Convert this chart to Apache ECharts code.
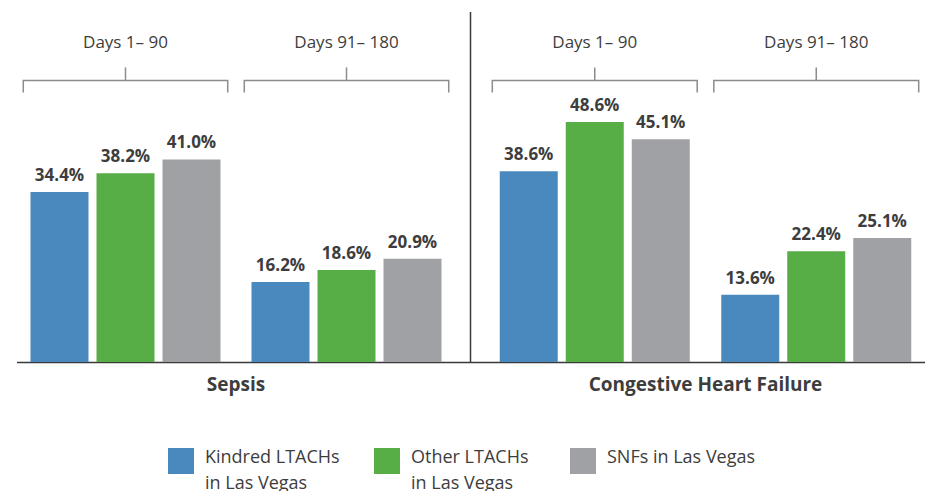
<!DOCTYPE html>
<html>
<head>
<meta charset="utf-8">
<script src="https://cdn.jsdelivr.net/npm/echarts@6/dist/echarts.min.js"></script>
<style>
html,body{margin:0;padding:0;background:#fff;}
#chart{width:927px;height:491px;}
</style>
</head>
<body>
<div id="chart"></div>
<script>
// ---- data ----
const periods = ['Days 1\u2013 90', 'Days 91\u2013 180'];
const panels = ['Sepsis', 'Congestive Heart Failure'];
const seriesNames = ['Kindred LTACHs in Las Vegas', 'Other LTACHs in Las Vegas', 'SNFs in Las Vegas'];
const kindredSepsis = [34.4, 16.2];
const otherSepsis = [38.2, 18.6];
const snfSepsis = [41.0, 20.9];
const kindredCHF = [38.6, 13.6];
const otherCHF = [48.6, 22.4];
const snfCHF = [45.1, 25.1];

// ---- styles ----
const FONT = 'Open Sans';
const colors = ['#4a89be', '#57ad46', '#a0a1a5'];
const TEXT = '#3d3d3d';
const Y_MAX = 60;
const BRACKET_LEVEL = 57;

const panelData = [
  [kindredSepsis, otherSepsis, snfSepsis],
  [kindredCHF, otherCHF, snfCHF]
];

const grids = [
  { left: 15, width: 442, top: 65.6, bottom: 129 },
  { left: 484, width: 443, top: 65.6, bottom: 129 }
];

const xAxes = [];
const yAxes = [];
const series = [];
panels.forEach((p, gi) => {
  xAxes.push({
    type: 'category', gridIndex: gi, data: periods, position: 'bottom',
    axisLine: { show: false }, axisTick: { show: false }, axisLabel: { show: false },
    name: p, nameLocation: 'middle', nameGap: 12,
    nameTextStyle: { fontFamily: FONT, fontWeight: 'bold', fontSize: 19, color: TEXT }
  });
  xAxes.push({
    type: 'category', gridIndex: gi, data: periods, position: 'top',
    axisLine: { show: false }, axisTick: { show: false },
    axisLabel: { margin: 16, fontFamily: FONT, fontSize: 17, color: TEXT }
  });
  yAxes.push({ type: 'value', gridIndex: gi, min: 0, max: Y_MAX, show: false, splitLine: { show: false } });
  panelData[gi].forEach((vals, si) => {
    series.push({
      type: 'bar', name: seriesNames[si], xAxisIndex: gi * 2, yAxisIndex: gi,
      data: vals, barWidth: 58, barGap: '13.8%',
      itemStyle: { color: colors[si] },
      label: {
        show: true, position: 'top', distance: 9,
        formatter: (d) => d.value.toFixed(1) + '%',
        fontFamily: FONT, fontWeight: 'bold', fontSize: 17, color: TEXT
      },
      emphasis: { disabled: true }
    });
  });
  series.push({
    type: 'custom', xAxisIndex: gi * 2, yAxisIndex: gi, silent: true, clip: false,
    data: periods.map((_, i) => [i, BRACKET_LEVEL]),
    renderItem: (params, api) => {
      const c = api.coord([api.value(0), api.value(1)]);
      const w = api.size([1, 0])[0] * 0.925;
      const x0 = c[0] - w / 2, x1 = c[0] + w / 2, y = c[1];
      const st = { stroke: '#8c8c8c', lineWidth: 1.5, fill: null };
      return {
        type: 'group',
        children: [
          { type: 'polyline', shape: { points: [[x0, y + 12], [x0, y], [x1, y], [x1, y + 12]] }, style: st },
          { type: 'line', shape: { x1: c[0], y1: y, x2: c[0], y2: y - 13 }, style: st }
        ]
      };
    }
  });
});

const legendPos = [
  { left: 168, top: 427, pad: [16, 0, 0, 6], two: true },
  { left: 374, top: 427, pad: [16, 0, 0, 6], two: true },
  { left: 570, top: 443, pad: [0, 0, 10, 6], two: false }
];
const legends = seriesNames.map((n, i) => ({
  left: legendPos[i].left, top: legendPos[i].top, padding: 0,
  data: [n], icon: 'rect', itemWidth: 26, itemHeight: 26,
  selectedMode: false,
  formatter: (name) => legendPos[i].two
    ? name.split(' in ').map((s, k) => '{t|' + (k ? 'in ' : '') + s + '}').join('\n')
    : '{t|' + name + '}',
  textStyle: {
    fontFamily: FONT, fontSize: 18, color: TEXT, lineHeight: 26, padding: legendPos[i].pad,
    rich: { t: { fontFamily: FONT, fontSize: 18, color: TEXT, lineHeight: 26 } }
  }
}));

const chart = echarts.init(document.getElementById('chart'), null, { renderer: 'svg' });
chart.setOption({
  animation: false,
  backgroundColor: '#ffffff',
  grid: grids,
  xAxis: xAxes,
  yAxis: yAxes,
  legend: legends,
  series: series
});

// baseline and divider, placed from the axes' own scale
const b0 = chart.convertToPixel({ xAxisIndex: 0, yAxisIndex: 0 }, [0, 0]);
const baseY = Math.round(b0[1]) + 0.5;
chart.setOption({
  graphic: [
    { type: 'line', shape: { x1: 17, y1: baseY, x2: 925, y2: baseY }, style: { stroke: '#3a3a3a', lineWidth: 1.5 } },
    { type: 'line', shape: { x1: 470.5, y1: 12, x2: 470.5, y2: baseY }, style: { stroke: '#3a3a3a', lineWidth: 1.5 } }
  ]
});
</script>
</body>
</html>
